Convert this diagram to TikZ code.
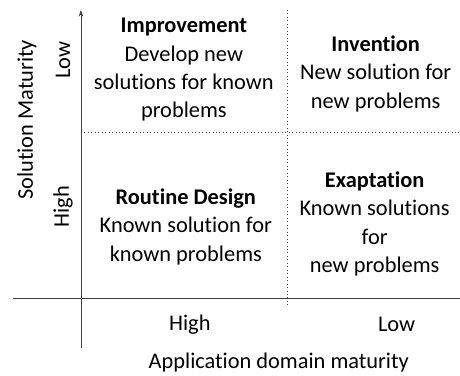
\documentclass[tikz,border=0pt]{standalone}
\usepackage{fontspec}
\setmainfont{Carlito}[Ligatures=NoCommon]
\usetikzlibrary{arrows.meta}

\tikzset{every picture/.style={line width=0.75pt}}
\tikzset{
  cell/.style={anchor=center,inner sep=0.75pt,align=center,font=\fontsize{16.8}{21.3}\selectfont},
  axlabel/.style={anchor=center,inner sep=0.75pt,font=\fontsize{16.8}{21.3}\selectfont},
  axline/.style={color={rgb, 255:red, 64; green, 64; blue, 64 },line width=0.6pt},
  divline/.style={color={rgb, 255:red, 64; green, 64; blue, 64 },line width=0.6pt,dotted}
}

\begin{document}
\begin{tikzpicture}[x=0.75pt,y=0.75pt,yscale=-1,xscale=1]
\path (0,0) rectangle (460,376); %set diagram left start at 0, and has height of 376

% Axis end points
\coordinate (ytop) at (81,10);
\coordinate (ybot) at (81,348);
\coordinate (xleft) at (13,299);
\coordinate (xright) at (460,299);
\coordinate (vtop) at (288,10);
\coordinate (vbot) at (288,307);
\coordinate (hleft) at (81,133);
\coordinate (hright) at (460,133);

% Axes
\draw [axline,-{Stealth[length=5pt,width=3.5pt]}] (ybot) -- (ytop);
\draw [axline] (xleft) -- (xright);
% Quadrant dividers
\draw [divline] (vtop) -- (vbot);
\draw [divline] (hleft) -- (hright);

% Text Node
\node [cell] (improvement) at (184,70) {\textbf{Improvement}\\Develop new\\solutions for known\\problems};
% Text Node
\node [cell] (invention) at (376,74) {\textbf{Invention}\\New solution for\\new problems};
% Text Node
\node [cell] (routine) at (186,227) {\textbf{Routine Design}\\Known solution for\\known problems};
% Text Node
\node [cell] (exaptation) at (375,224) {\textbf{Exaptation}\\Known solutions\\for\\new problems};

% Text Node
\node [axlabel,rotate=90] (ylow) at (63,60) {Low};
% Text Node
\node [axlabel,rotate=90] (yhigh) at (63,207) {High};
% Text Node
\node [axlabel,rotate=90] (ytitle) at (27,120) {Solution Maturity};
% Text Node
\node [axlabel] (xhigh) at (190,325) {High};
% Text Node
\node [axlabel] (xlow) at (397,325) {Low};
% Text Node
\node [axlabel] (xtitle) at (279,363) {Application domain maturity};

\end{tikzpicture}
\end{document}
